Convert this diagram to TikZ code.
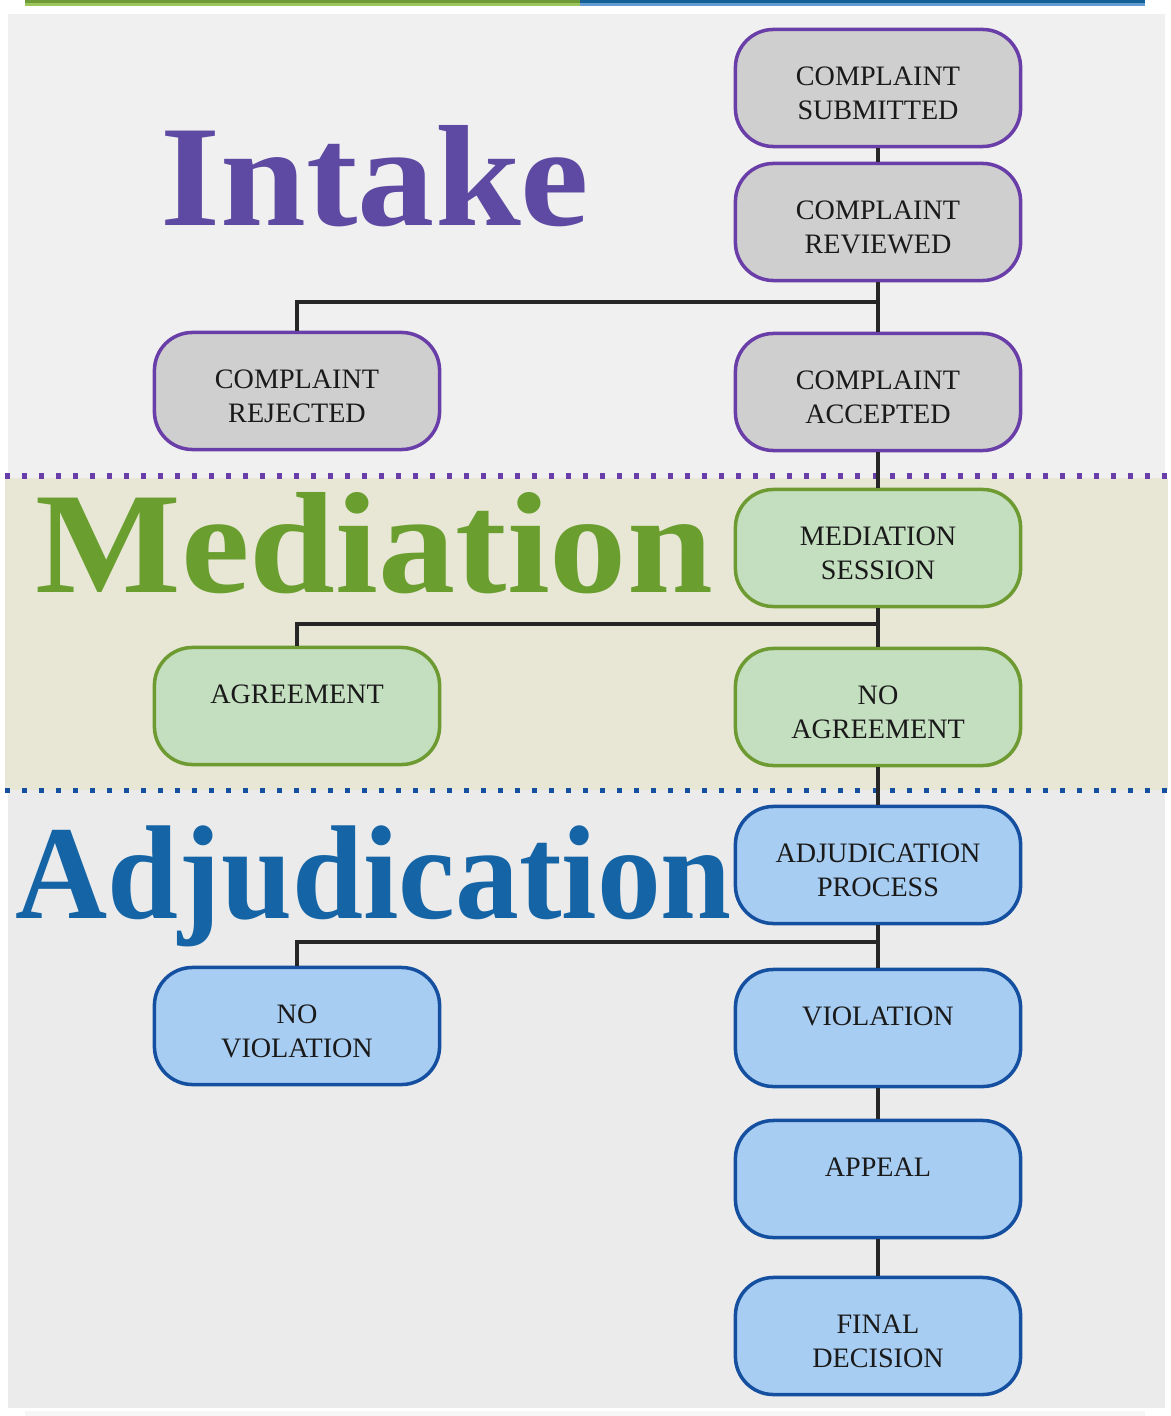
\documentclass[tikz,border=0pt]{standalone}
\usepackage{fontspec}
\setmainfont{Liberation Serif}
\usepackage{tikz}
\usetikzlibrary{positioning,calc}
\usepackage{xcolor}

\definecolor{intakeC}{HTML}{5E4AA2}
\definecolor{intakeB}{HTML}{6A3EA8}
\definecolor{medC}{HTML}{6A9E2E}
\definecolor{medB}{HTML}{6E9A32}
\definecolor{adjC}{HTML}{1565A6}
\definecolor{adjB}{HTML}{1550A0}
\definecolor{boxtext}{HTML}{1A1A1A}
\definecolor{medFill}{HTML}{C4DFC0}
\definecolor{adjFill}{HTML}{A8CDF2}
\definecolor{bandFill}{HTML}{E8E7D6}
\definecolor{barGreen}{HTML}{6E9B37}
\definecolor{barGreenL}{HTML}{9CC55A}
\definecolor{barBlue}{HTML}{145F96}
\definecolor{barBlueL}{HTML}{649BD2}

\begin{document}
\begin{tikzpicture}[x=0.01cm,y=-0.01cm,
				stage/.style={draw,line width=1pt,rounded corners=0.38cm,
					minimum width=2.85cm,minimum height=1.17cm,align=center,
					text=boxtext,font=\fontsize{8}{9.7}\selectfont,
					text height=17.7pt,text depth=0pt},
				intakebox/.style={stage,draw=intakeB,fill=gray!38},
				medbox/.style={stage,draw=medB,fill=medFill},
				adjbox/.style={stage,draw=adjB,fill=adjFill},
				conn/.style={line width=1.4pt,black!85},
				heading/.style={anchor=base west,inner sep=0pt}]
				% background
				\fill[white] (0,0) rectangle (1168,1416);
				\fill[barGreen] (25,0) rectangle (580,3);
				\fill[barGreenL] (25,3) rectangle (580,6);
				\fill[barBlue] (580,0) rectangle (1145,3);
				\fill[barBlueL] (580,3) rectangle (1145,6);
				\fill[gray!12] (8,14) rectangle (1165,478);
				\fill[bandFill] (5,478) rectangle (1168,790);
				\fill[gray!16] (8,790) rectangle (1165,1408);
				\fill[gray!7] (25,1411) rectangle (1145,1416);
				\draw[intakeB,line width=0.05cm,dash pattern=on 0.05cm off 0.12cm] (5,476) -- (1168,476);
				\draw[adjB,line width=0.05cm,dash pattern=on 0.05cm off 0.12cm] (5,790) -- (1168,790);
				% headings
				\node[heading,text=intakeC,xscale=1.07,font=\fontsize{41}{41}\selectfont\bfseries] (hIntake) at (160,226) {Intake};
				\node[heading,text=medC,xscale=1.07,font=\fontsize{41}{41}\selectfont\bfseries] (hMed) at (35,592) {Mediation};
				\node[heading,text=adjC,xscale=0.955,font=\fontsize{38}{38}\selectfont\bfseries] (hAdj) at (15,918) {Adjudication};
				% intake
				\node[intakebox] (sub)  at (878,88)  {COMPLAINT\\SUBMITTED};
				\node[intakebox] (rev)  at (878,222) {COMPLAINT\\REVIEWED};
				\node[intakebox] (rej)  at (297,391) {COMPLAINT\\REJECTED};
				\node[intakebox] (acc)  at (878,392) {COMPLAINT\\ACCEPTED};
				% mediation
				\node[medbox] (med)   at (878,548)  {MEDIATION\\SESSION};
				\node[medbox] (agr)   at (297,706)  {AGREEMENT\\~};
				\node[medbox] (noagr) at (878,707)  {NO\\AGREEMENT};
				% adjudication
				\node[adjbox] (adj)    at (878,865)  {ADJUDICATION\\PROCESS};
				\node[adjbox] (noviol) at (297,1026) {NO\\VIOLATION};
				\node[adjbox] (viol)   at (878,1028) {VIOLATION\\~};
				\node[adjbox] (app)    at (878,1179) {APPEAL\\~};
				\node[adjbox] (fin)    at (878,1336) {FINAL\\DECISION};
				% junctions
				\coordinate (j1) at (878,302);
				\coordinate (j2) at (878,624);
				\coordinate (j3) at (878,942);
				\draw[conn] (sub) -- (rev);
				\draw[conn] (rev) -- (acc);
				\draw[conn] (acc) -- (med);
				\draw[conn] (med) -- (noagr);
				\draw[conn] (noagr) -- (adj);
				\draw[conn] (adj) -- (viol);
				\draw[conn] (viol) -- (app);
				\draw[conn] (app) -- (fin);
				\draw[conn] (j1) -| (rej.north);
				\draw[conn] (j2) -| (agr.north);
				\draw[conn] (j3) -| (noviol.north);
			\end{tikzpicture}
\end{document}
